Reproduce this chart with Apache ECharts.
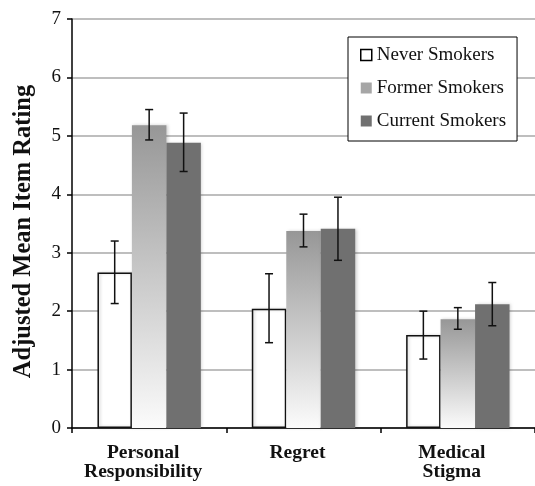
<!DOCTYPE html>
<html>
<head>
<meta charset="utf-8">
<script src="https://cdn.jsdelivr.net/npm/echarts@6/dist/echarts.min.js"></script>
<style>
html,body{margin:0;padding:0;background:#fff;}
#chart{width:535px;height:486px;}
</style>
</head>
<body>
<div id="chart"></div>
<script>
var categories = ['Personal\nResponsibility', 'Regret', 'Medical\nStigma'];
var seriesNames = ['Never Smokers', 'Former Smokers', 'Current Smokers'];
var neverMeans = [2.66, 2.04, 1.59];
var formerMeans = [5.18, 3.37, 1.86];
var currentMeans = [4.88, 3.41, 2.12];
var neverLow = [2.13, 1.46, 1.18];
var neverHigh = [3.20, 2.64, 2.00];
var formerLow = [4.93, 3.10, 1.69];
var formerHigh = [5.45, 3.66, 2.06];
var currentLow = [4.39, 2.87, 1.75];
var currentHigh = [5.39, 3.95, 2.49];
var yTicks = [0, 1, 2, 3, 4, 5, 6, 7];

var FONT = '"Liberation Serif", "Times New Roman", serif';
var CAT_GAP = 0.33;

var errData = [];
[[neverLow, neverHigh], [formerLow, formerHigh], [currentLow, currentHigh]].forEach(function (pair, s) {
  for (var i = 0; i < categories.length; i++) {
    errData.push([i, pair[0][i], pair[1][i], s]);
  }
});

var chart = echarts.init(document.getElementById('chart'), null, {renderer: 'canvas'});

var barShadow = {shadowBlur: 3, shadowColor: 'rgba(0,0,0,0.18)', shadowOffsetX: 1.5, shadowOffsetY: 0};

var option = {
  animation: false,
  backgroundColor: '#fff',
  grid: {left: 72, right: -3, top: 19, bottom: 58},
  legend: {
    orient: 'vertical',
    left: 348, top: 37,
    padding: [8, 11, 10, 12],
    itemGap: 13,
    itemWidth: 11, itemHeight: 11,
    borderColor: '#000', borderWidth: 1,
    backgroundColor: '#fff',
    textStyle: {fontFamily: FONT, fontSize: 19, color: '#111', lineHeight: 20},
    data: [
      {name: seriesNames[0], icon: 'rect', itemStyle: {color: '#fff', borderColor: '#000', borderWidth: 1.5}},
      {name: seriesNames[1], icon: 'rect', itemStyle: {color: '#a6a6a6', borderWidth: 0}},
      {name: seriesNames[2], icon: 'rect', itemStyle: {color: '#707070', borderWidth: 0}}
    ]
  },
  xAxis: {
    type: 'category',
    data: categories,
    axisLine: {lineStyle: {color: '#000', width: 1.5}},
    axisTick: {show: true, length: 5, lineStyle: {color: '#000', width: 1.5}},
    axisLabel: {
      fontFamily: FONT, fontSize: 19.5, fontWeight: 'bold', color: '#111',
      lineHeight: 19, margin: 15, padding: [0, 12, 0, 0]
    }
  },
  yAxis: {
    type: 'value',
    min: yTicks[0], max: yTicks[yTicks.length - 1], interval: 1,
    name: 'Adjusted Mean Item Rating',
    nameLocation: 'middle',
    nameGap: 36,
    nameTextStyle: {fontFamily: FONT, fontSize: 24.5, fontWeight: 'bold', color: '#111', padding: [0, 16, 0, 0]},
    axisLine: {show: true, lineStyle: {color: '#000', width: 1.5}},
    axisTick: {show: true, length: 5, lineStyle: {color: '#000', width: 1.5}},
    axisLabel: {fontFamily: FONT, fontSize: 19, color: '#111', margin: 11},
    splitLine: {show: true, lineStyle: {color: '#a8a8a8', width: 1.5}}
  },
  series: [
    {
      name: seriesNames[0], type: 'bar', data: neverMeans,
      barGap: '0%', barCategoryGap: (CAT_GAP * 100) + '%',
      itemStyle: Object.assign({color: '#fff', borderColor: '#111', borderWidth: 1.5}, barShadow)
    },
    {
      name: seriesNames[1], type: 'bar', data: formerMeans,
      barGap: '0%', barCategoryGap: (CAT_GAP * 100) + '%',
      itemStyle: Object.assign({
        color: new echarts.graphic.LinearGradient(0, 0, 0, 1, [
          {offset: 0, color: '#979797'},
          {offset: 1, color: '#fbfbfb'}
        ])
      }, barShadow)
    },
    {
      name: seriesNames[2], type: 'bar', data: currentMeans,
      barGap: '0%', barCategoryGap: (CAT_GAP * 100) + '%',
      itemStyle: Object.assign({color: '#707070'}, barShadow)
    },
    {
      name: 'errors', type: 'custom', data: errData, z: 10,
      encode: {x: 0, y: [1, 2]},
      renderItem: function (params, api) {
        var cat = api.value(0), s = api.value(3);
        var band = api.size([1, 0])[0];
        var bw = band * (1 - CAT_GAP) / 3;
        var c = api.coord([cat, 0]);
        var x = c[0] + (s - 1) * bw;
        var yl = api.coord([cat, api.value(1)])[1];
        var yh = api.coord([cat, api.value(2)])[1];
        var cap = 4;
        var st = {stroke: '#111', lineWidth: 1.5};
        return {
          type: 'group',
          children: [
            {type: 'line', shape: {x1: x, y1: yl, x2: x, y2: yh}, style: st},
            {type: 'line', shape: {x1: x - cap, y1: yl, x2: x + cap, y2: yl}, style: st},
            {type: 'line', shape: {x1: x - cap, y1: yh, x2: x + cap, y2: yh}, style: st}
          ]
        };
      }
    }
  ]
};
chart.setOption(option);
</script>
</body>
</html>
